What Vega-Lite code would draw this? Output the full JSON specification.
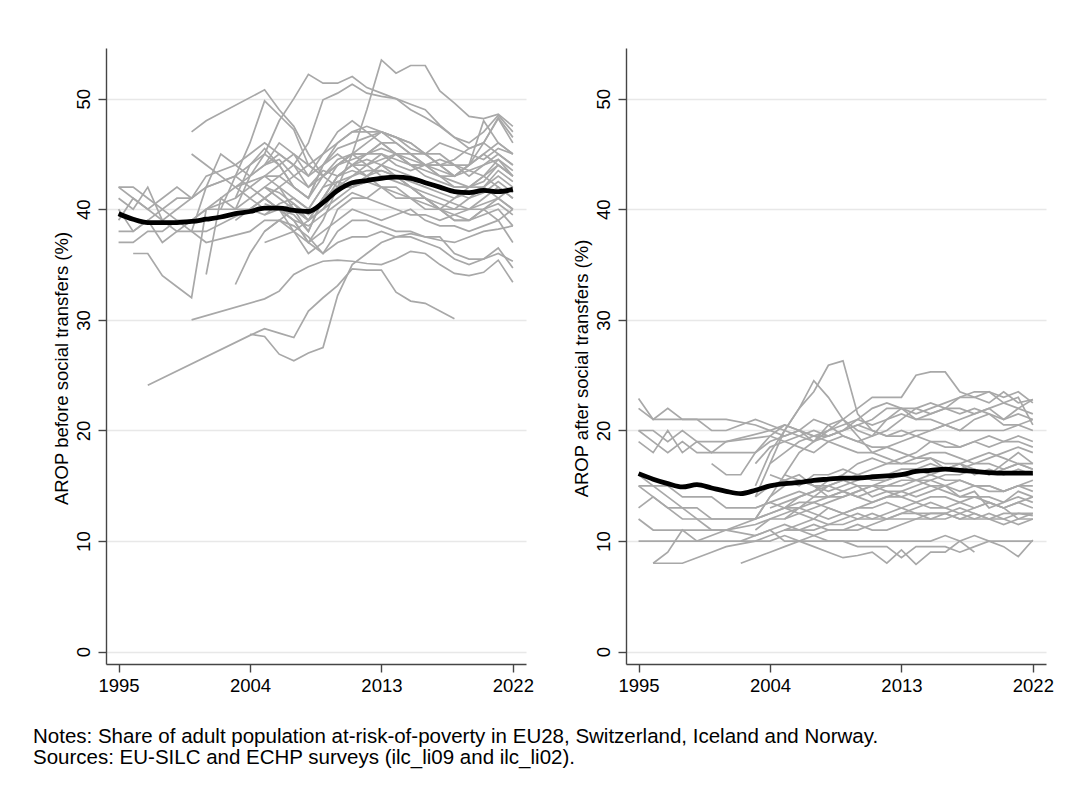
{
  "$schema": "https://vega.github.io/schema/vega-lite/v6.json",
  "description": "AROP before and after social transfers, EU28 + CH, IS, NO",
  "background": "white",
  "padding": {"left": 33, "top": 48, "right": 5, "bottom": 5},
  "config": {
    "font": "Liberation Sans",
    "view": {"stroke": null},
    "line": {"invalid": "filter"},
    "axis": {
      "labelFont": "Liberation Sans",
      "titleFont": "Liberation Sans",
      "labelColor": "#000000",
      "titleColor": "#000000",
      "labelFontSize": 18.5,
      "titleFontSize": 18.5,
      "titleFontWeight": "normal",
      "domainColor": "#454545",
      "tickColor": "#454545",
      "domainWidth": 1.4,
      "tickWidth": 1.4,
      "tickSize": 8
    }
  },
  "datasets": {
    "c": [
      {"c":1,"y":1995,"b":42,"a":22.9},{"c":1,"y":1996,"b":42,"a":21},{"c":1,"y":1997,"b":41,"a":22},{"c":1,"y":1998,"b":40,"a":21},{"c":1,"y":1999,"b":41,"a":21},{"c":1,"y":2000,"b":41,"a":21},{"c":1,"y":2001,"b":42,"a":21},{"c":1,"y":2003,"b":43,"a":20.5},{"c":1,"y":2004,"b":42,"a":20},{"c":1,"y":2005,"b":43,"a":20.5},{"c":1,"y":2006,"b":43,"a":20},{"c":1,"y":2007,"b":42,"a":19.5},{"c":1,"y":2008,"b":41,"a":19.5},{"c":1,"y":2009,"b":43,"a":20},{"c":1,"y":2010,"b":44,"a":20.5},{"c":1,"y":2011,"b":45,"a":20},{"c":1,"y":2012,"b":45,"a":19.5},{"c":1,"y":2013,"b":46,"a":19.5},{"c":1,"y":2014,"b":46,"a":20},{"c":1,"y":2015,"b":45,"a":20},{"c":1,"y":2016,"b":45,"a":20.5},{"c":1,"y":2017,"b":44,"a":20},{"c":1,"y":2018,"b":44,"a":20},{"c":1,"y":2019,"b":43,"a":20},{"c":1,"y":2020,"b":44,"a":20},{"c":1,"y":2021,"b":45,"a":20.5},{"c":1,"y":2022,"b":44,"a":20},
      {"c":2,"y":1995,"b":41,"a":22},{"c":2,"y":1996,"b":40,"a":21},{"c":2,"y":1997,"b":42,"a":21},{"c":2,"y":1998,"b":39,"a":21},{"c":2,"y":1999,"b":38,"a":21},{"c":2,"y":2000,"b":39,"a":20},{"c":2,"y":2001,"b":40,"a":20},{"c":2,"y":2003,"b":41,"a":21},{"c":2,"y":2004,"b":42,"a":20.5},{"c":2,"y":2005,"b":41,"a":20},{"c":2,"y":2006,"b":42,"a":19.5},{"c":2,"y":2007,"b":40,"a":19},{"c":2,"y":2008,"b":38,"a":20},{"c":2,"y":2009,"b":41,"a":20.5},{"c":2,"y":2010,"b":43,"a":21},{"c":2,"y":2011,"b":44,"a":20.5},{"c":2,"y":2012,"b":43,"a":21},{"c":2,"y":2013,"b":44,"a":22},{"c":2,"y":2014,"b":45,"a":22},{"c":2,"y":2015,"b":44,"a":21.5},{"c":2,"y":2016,"b":44,"a":22},{"c":2,"y":2017,"b":43,"a":22},{"c":2,"y":2018,"b":42,"a":21.5},{"c":2,"y":2019,"b":42,"a":22},{"c":2,"y":2020,"b":43,"a":22.5},{"c":2,"y":2021,"b":44,"a":22},{"c":2,"y":2022,"b":43,"a":22.8},
      {"c":3,"y":1995,"b":40,"a":20},{"c":3,"y":1996,"b":38,"a":20},{"c":3,"y":1997,"b":39,"a":19},{"c":3,"y":1998,"b":40,"a":20},{"c":3,"y":1999,"b":39,"a":19},{"c":3,"y":2000,"b":38,"a":19},{"c":3,"y":2001,"b":38,"a":19},{"c":3,"y":2004,"b":40,"a":20},{"c":3,"y":2005,"b":41,"a":19.5},{"c":3,"y":2006,"b":40,"a":20},{"c":3,"y":2007,"b":39,"a":21},{"c":3,"y":2008,"b":37,"a":20.5},{"c":3,"y":2009,"b":39,"a":19.5},{"c":3,"y":2010,"b":42,"a":19},{"c":3,"y":2011,"b":42,"a":19.5},{"c":3,"y":2012,"b":43,"a":21},{"c":3,"y":2013,"b":44,"a":21.5},{"c":3,"y":2014,"b":43,"a":21},{"c":3,"y":2015,"b":42,"a":21},{"c":3,"y":2016,"b":41,"a":20.5},{"c":3,"y":2017,"b":40,"a":20},{"c":3,"y":2018,"b":40,"a":21},{"c":3,"y":2019,"b":41,"a":21.5},{"c":3,"y":2020,"b":42,"a":20.5},{"c":3,"y":2021,"b":41,"a":20.5},{"c":3,"y":2022,"b":42,"a":21},
      {"c":4,"y":1995,"b":38,"a":19},{"c":4,"y":1996,"b":38,"a":18},{"c":4,"y":1997,"b":39,"a":20},{"c":4,"y":1998,"b":37,"a":18},{"c":4,"y":1999,"b":38,"a":19},{"c":4,"y":2000,"b":38,"a":18},{"c":4,"y":2001,"b":37,"a":19},{"c":4,"y":2004,"b":38,"a":19.5},{"c":4,"y":2005,"b":39,"a":19},{"c":4,"y":2006,"b":39,"a":18.5},{"c":4,"y":2007,"b":38,"a":18},{"c":4,"y":2008,"b":36,"a":19},{"c":4,"y":2009,"b":37,"a":19.5},{"c":4,"y":2010,"b":40,"a":19},{"c":4,"y":2011,"b":41,"a":18.5},{"c":4,"y":2012,"b":41,"a":18.5},{"c":4,"y":2013,"b":42,"a":19},{"c":4,"y":2014,"b":41,"a":19.5},{"c":4,"y":2015,"b":41,"a":19},{"c":4,"y":2016,"b":40,"a":18.5},{"c":4,"y":2017,"b":40,"a":18.5},{"c":4,"y":2018,"b":39,"a":19},{"c":4,"y":2019,"b":39,"a":18.5},{"c":4,"y":2020,"b":40,"a":19},{"c":4,"y":2021,"b":39,"a":19},{"c":4,"y":2022,"b":40,"a":18.5},
      {"c":5,"y":1995,"b":37,"a":20},{"c":5,"y":1996,"b":37,"a":19},{"c":5,"y":1997,"b":38,"a":18},{"c":5,"y":1998,"b":38,"a":19},{"c":5,"y":1999,"b":39,"a":18},{"c":5,"y":2000,"b":39,"a":18},{"c":5,"y":2001,"b":40,"a":18},{"c":5,"y":2003,"b":40,"a":18},{"c":5,"y":2004,"b":41,"a":19},{"c":5,"y":2005,"b":40,"a":19.5},{"c":5,"y":2006,"b":40,"a":20},{"c":5,"y":2007,"b":38,"a":19.5},{"c":5,"y":2008,"b":39,"a":19},{"c":5,"y":2009,"b":41,"a":18.5},{"c":5,"y":2010,"b":42,"a":18},{"c":5,"y":2011,"b":42,"a":18},{"c":5,"y":2012,"b":43,"a":18.5},{"c":5,"y":2013,"b":42,"a":18},{"c":5,"y":2014,"b":42,"a":17.5},{"c":5,"y":2015,"b":41,"a":17.5},{"c":5,"y":2016,"b":41,"a":17},{"c":5,"y":2017,"b":40,"a":17},{"c":5,"y":2018,"b":41,"a":17.5},{"c":5,"y":2019,"b":42,"a":18},{"c":5,"y":2020,"b":43,"a":17.5},{"c":5,"y":2021,"b":42,"a":17},{"c":5,"y":2022,"b":41,"a":17},
      {"c":6,"y":1995,"b":39,"a":15},{"c":6,"y":1996,"b":41,"a":14},{"c":6,"y":1997,"b":40,"a":13},{"c":6,"y":1998,"b":41,"a":12},{"c":6,"y":1999,"b":42,"a":12},{"c":6,"y":2000,"b":41,"a":11},{"c":6,"y":2001,"b":42,"a":11},{"c":6,"y":2003,"b":43,"a":11.5},{"c":6,"y":2004,"b":44,"a":12},{"c":6,"y":2005,"b":45,"a":12},{"c":6,"y":2006,"b":44,"a":12.5},{"c":6,"y":2007,"b":42,"a":12},{"c":6,"y":2008,"b":41,"a":13},{"c":6,"y":2009,"b":44,"a":12.5},{"c":6,"y":2010,"b":46,"a":12},{"c":6,"y":2011,"b":47,"a":12},{"c":6,"y":2012,"b":47,"a":12.5},{"c":6,"y":2013,"b":46,"a":13},{"c":6,"y":2014,"b":45,"a":12.5},{"c":6,"y":2015,"b":44,"a":12.5},{"c":6,"y":2016,"b":44,"a":12.5},{"c":6,"y":2017,"b":43,"a":13},{"c":6,"y":2018,"b":43,"a":12.5},{"c":6,"y":2019,"b":44,"a":12},{"c":6,"y":2020,"b":46,"a":12.5},{"c":6,"y":2021,"b":45,"a":12.5},{"c":6,"y":2022,"b":44,"a":12.5},
      {"c":7,"y":1995,"a":13},{"c":7,"y":1996,"b":36,"a":14},{"c":7,"y":1997,"b":36,"a":13},{"c":7,"y":1998,"b":34,"a":13},{"c":7,"y":1999,"b":33,"a":13},{"c":7,"y":2000,"b":32,"a":12},{"c":7,"y":2001,"b":40,"a":12},{"c":7,"y":2003,"b":42,"a":12},{"c":7,"y":2004,"b":41,"a":12.5},{"c":7,"y":2005,"b":42,"a":13},{"c":7,"y":2006,"b":41,"a":13},{"c":7,"y":2007,"b":40,"a":14},{"c":7,"y":2008,"b":39,"a":14},{"c":7,"y":2009,"b":40,"a":14.5},{"c":7,"y":2010,"b":42,"a":14},{"c":7,"y":2011,"b":43,"a":13.5},{"c":7,"y":2012,"b":44,"a":14},{"c":7,"y":2013,"b":43,"a":14},{"c":7,"y":2014,"b":43,"a":13.5},{"c":7,"y":2015,"b":42,"a":14},{"c":7,"y":2016,"b":41,"a":14},{"c":7,"y":2017,"b":40,"a":13.5},{"c":7,"y":2018,"b":39,"a":13},{"c":7,"y":2019,"b":39,"a":13.5},{"c":7,"y":2020,"b":40,"a":13},{"c":7,"y":2021,"b":41,"a":13.5},{"c":7,"y":2022,"b":40,"a":14},
      {"c":8,"y":1995,"b":42,"a":12},{"c":8,"y":1996,"b":41,"a":11},{"c":8,"y":1997,"b":40,"a":11},{"c":8,"y":1998,"b":39,"a":11},{"c":8,"y":1999,"b":40,"a":11},{"c":8,"y":2000,"b":41,"a":11},{"c":8,"y":2001,"b":43,"a":11},{"c":8,"y":2003,"b":44,"a":10.5},{"c":8,"y":2004,"b":45,"a":11},{"c":8,"y":2005,"b":46,"a":11.5},{"c":8,"y":2006,"b":45,"a":11},{"c":8,"y":2007,"b":44,"a":11},{"c":8,"y":2008,"b":43,"a":11.5},{"c":8,"y":2009,"b":45,"a":11.5},{"c":8,"y":2010,"b":47,"a":12},{"c":8,"y":2011,"b":48,"a":12.5},{"c":8,"y":2012,"b":47,"a":12},{"c":8,"y":2013,"b":47,"a":12.5},{"c":8,"y":2014,"b":46,"a":12.5},{"c":8,"y":2015,"b":45,"a":12},{"c":8,"y":2016,"b":44,"a":12.5},{"c":8,"y":2017,"b":44,"a":12},{"c":8,"y":2018,"b":43,"a":12},{"c":8,"y":2019,"b":44,"a":12.5},{"c":8,"y":2020,"b":48,"a":12},{"c":8,"y":2021,"b":46,"a":11.5},{"c":8,"y":2022,"b":45,"a":12},
      {"c":9,"y":1995,"a":10},{"c":9,"y":1996,"a":10},{"c":9,"y":1997,"b":24.1,"a":10},{"c":9,"y":1998,"a":10},{"c":9,"y":1999,"a":10},{"c":9,"y":2000,"a":10},{"c":9,"y":2001,"a":10},{"c":9,"y":2003,"a":10},{"c":9,"y":2004,"b":28.6,"a":10},{"c":9,"y":2005,"b":29.2,"a":10.5},{"c":9,"y":2006,"b":28.8,"a":10},{"c":9,"y":2007,"b":28.4,"a":10},{"c":9,"y":2008,"b":30.8,"a":10},{"c":9,"y":2009,"b":32,"a":10},{"c":9,"y":2010,"b":33.1,"a":10},{"c":9,"y":2011,"b":34.6,"a":10},{"c":9,"y":2012,"b":34.5,"a":10},{"c":9,"y":2013,"b":34.5,"a":10},{"c":9,"y":2014,"b":32.5,"a":10},{"c":9,"y":2015,"b":31.7,"a":10},{"c":9,"y":2016,"b":31.5,"a":10.5},{"c":9,"y":2017,"b":30.8,"a":10},{"c":9,"y":2018,"b":30.1,"a":10.5},{"c":9,"y":2019,"a":10},{"c":9,"y":2020,"a":10},{"c":9,"y":2021,"a":10},{"c":9,"y":2022,"a":10},
      {"c":10,"y":1996,"a":8},{"c":10,"y":1997,"a":8},{"c":10,"y":1998,"a":8},{"c":10,"y":1999,"a":8.5},{"c":10,"y":2000,"a":9},{"c":10,"y":2001,"a":9.5},{"c":10,"y":2003,"a":10},{"c":10,"y":2004,"b":28.7,"a":10.5},{"c":10,"y":2005,"b":28.5,"a":11},{"c":10,"y":2006,"b":26.9,"a":11},{"c":10,"y":2007,"b":26.3,"a":10.5},{"c":10,"y":2008,"b":27,"a":11},{"c":10,"y":2009,"b":27.5,"a":11},{"c":10,"y":2010,"b":32.2,"a":11.5},{"c":10,"y":2011,"b":35,"a":11},{"c":10,"y":2012,"b":36,"a":11},{"c":10,"y":2013,"b":37,"a":11.5},{"c":10,"y":2014,"b":37.5,"a":12},{"c":10,"y":2015,"b":37.8,"a":12},{"c":10,"y":2016,"b":37.5,"a":12},{"c":10,"y":2017,"b":37.2,"a":12.5},{"c":10,"y":2018,"b":37,"a":12},{"c":10,"y":2019,"b":37.5,"a":12},{"c":10,"y":2020,"b":38,"a":11.5},{"c":10,"y":2021,"b":38.2,"a":12},{"c":10,"y":2022,"b":38.5,"a":12.5},
      {"c":11,"y":1996,"a":8},{"c":11,"y":1997,"a":9},{"c":11,"y":1998,"a":11},{"c":11,"y":1999,"a":10},{"c":11,"y":2000,"b":30,"a":10.5},{"c":11,"y":2001,"a":11},{"c":11,"y":2003,"a":12},{"c":11,"y":2004,"a":14},{"c":11,"y":2005,"b":31.9,"a":15},{"c":11,"y":2006,"b":32.6,"a":15.5},{"c":11,"y":2007,"b":34.1,"a":15},{"c":11,"y":2008,"b":34.8,"a":15},{"c":11,"y":2009,"b":35.3,"a":14.5},{"c":11,"y":2010,"b":35.4,"a":14},{"c":11,"y":2011,"b":35.3,"a":14.5},{"c":11,"y":2012,"b":35.1,"a":15},{"c":11,"y":2013,"b":35,"a":15},{"c":11,"y":2014,"b":35.5,"a":15.5},{"c":11,"y":2015,"b":36.2,"a":15},{"c":11,"y":2016,"b":36,"a":15},{"c":11,"y":2017,"b":35,"a":14.5},{"c":11,"y":2018,"b":34.2,"a":15},{"c":11,"y":2019,"b":34,"a":15},{"c":11,"y":2020,"b":34.3,"a":14.5},{"c":11,"y":2021,"b":35.4,"a":15},{"c":11,"y":2022,"b":33.4,"a":15},
      {"c":12,"y":1995,"a":15},{"c":12,"y":1996,"a":15},{"c":12,"y":1997,"a":15},{"c":12,"y":1998,"a":14},{"c":12,"y":1999,"a":14},{"c":12,"y":2000,"b":47,"a":14},{"c":12,"y":2001,"b":48,"a":13},{"c":12,"y":2003,"a":13},{"c":12,"y":2004,"a":13.5},{"c":12,"y":2005,"b":50.8,"a":13},{"c":12,"y":2006,"b":49,"a":13.5},{"c":12,"y":2007,"b":47.5,"a":13.5},{"c":12,"y":2008,"b":45,"a":14},{"c":12,"y":2009,"b":43,"a":14},{"c":12,"y":2010,"b":44,"a":14.5},{"c":12,"y":2011,"b":45,"a":15},{"c":12,"y":2012,"b":46,"a":15},{"c":12,"y":2013,"b":47,"a":15.5},{"c":12,"y":2014,"b":46.5,"a":15.5},{"c":12,"y":2015,"b":46,"a":15.5},{"c":12,"y":2016,"b":45,"a":15},{"c":12,"y":2017,"b":45,"a":15.5},{"c":12,"y":2018,"b":44,"a":15},{"c":12,"y":2019,"b":44,"a":14.5},{"c":12,"y":2020,"b":45,"a":14.5},{"c":12,"y":2021,"b":46,"a":15},{"c":12,"y":2022,"b":45,"a":15.5},
      {"c":13,"y":1995,"a":16},{"c":13,"y":1996,"a":15},{"c":13,"y":1997,"a":14},{"c":13,"y":1998,"a":13},{"c":13,"y":1999,"a":12},{"c":13,"y":2000,"a":12},{"c":13,"y":2001,"a":12},{"c":13,"y":2002,"b":40},{"c":13,"y":2003,"b":43,"a":12},{"c":13,"y":2004,"b":46,"a":12.5},{"c":13,"y":2005,"b":49.8,"a":13},{"c":13,"y":2006,"b":48.5,"a":12.5},{"c":13,"y":2007,"b":47.2,"a":13},{"c":13,"y":2008,"b":44,"a":13.5},{"c":13,"y":2009,"b":43,"a":14},{"c":13,"y":2010,"b":44,"a":14.5},{"c":13,"y":2011,"b":45,"a":15},{"c":13,"y":2012,"b":45,"a":15.5},{"c":13,"y":2013,"b":46,"a":16},{"c":13,"y":2014,"b":45,"a":16.5},{"c":13,"y":2015,"b":45,"a":16},{"c":13,"y":2016,"b":44,"a":16.5},{"c":13,"y":2017,"b":44,"a":17},{"c":13,"y":2018,"b":43,"a":16.5},{"c":13,"y":2019,"b":44,"a":16},{"c":13,"y":2020,"b":45,"a":16.5},{"c":13,"y":2021,"b":44,"a":17},{"c":13,"y":2022,"b":43,"a":16.5},
      {"c":14,"y":2000,"a":17},{"c":14,"y":2001,"a":16},{"c":14,"y":2002,"a":16},{"c":14,"y":2003,"b":40,"a":18},{"c":14,"y":2004,"b":43,"a":19.5},{"c":14,"y":2005,"b":45,"a":20.5},{"c":14,"y":2006,"b":48,"a":20},{"c":14,"y":2007,"b":50,"a":19},{"c":14,"y":2008,"b":52.2,"a":20.5},{"c":14,"y":2009,"b":51.4,"a":21},{"c":14,"y":2010,"b":51.4,"a":20},{"c":14,"y":2011,"b":52,"a":19.5},{"c":14,"y":2012,"b":51,"a":20},{"c":14,"y":2013,"b":50.5,"a":21},{"c":14,"y":2014,"b":50,"a":22},{"c":14,"y":2015,"b":49,"a":22.5},{"c":14,"y":2016,"b":48.3,"a":22},{"c":14,"y":2017,"b":47.5,"a":23},{"c":14,"y":2018,"b":46.5,"a":23.5},{"c":14,"y":2019,"b":46,"a":23.5},{"c":14,"y":2020,"b":47,"a":23},{"c":14,"y":2021,"b":48.5,"a":23.5},{"c":14,"y":2022,"b":47,"a":22.5},
      {"c":15,"y":2003,"a":14},{"c":15,"y":2004,"a":17},{"c":15,"y":2005,"b":43,"a":20},{"c":15,"y":2006,"b":44,"a":22},{"c":15,"y":2007,"b":45,"a":23.5},{"c":15,"y":2008,"b":44,"a":25.9},{"c":15,"y":2009,"b":43,"a":26.3},{"c":15,"y":2010,"b":42,"a":21.5},{"c":15,"y":2011,"b":45,"a":20},{"c":15,"y":2012,"b":49,"a":19.5},{"c":15,"y":2013,"b":53.5,"a":20},{"c":15,"y":2014,"b":52.3,"a":19.5},{"c":15,"y":2015,"b":53,"a":20},{"c":15,"y":2016,"b":53,"a":20.5},{"c":15,"y":2017,"b":50.7,"a":21},{"c":15,"y":2018,"b":49.6,"a":21.5},{"c":15,"y":2019,"b":48.4,"a":22},{"c":15,"y":2020,"b":48.2,"a":21},{"c":15,"y":2021,"b":48.6,"a":21.5},{"c":15,"y":2022,"b":47.5,"a":21},
      {"c":16,"y":2003,"a":15},{"c":16,"y":2004,"a":18},{"c":16,"y":2005,"b":42,"a":20},{"c":16,"y":2006,"b":43,"a":22},{"c":16,"y":2007,"b":44,"a":24.5},{"c":16,"y":2008,"b":46,"a":23},{"c":16,"y":2009,"b":49.9,"a":21},{"c":16,"y":2010,"b":50.5,"a":19.5},{"c":16,"y":2011,"b":51.3,"a":18},{"c":16,"y":2012,"b":50.5,"a":17.5},{"c":16,"y":2013,"b":50.2,"a":17},{"c":16,"y":2014,"b":50,"a":17},{"c":16,"y":2015,"b":49.5,"a":17.5},{"c":16,"y":2016,"b":49,"a":16.5},{"c":16,"y":2017,"b":47.6,"a":16.5},{"c":16,"y":2018,"b":46.5,"a":17},{"c":16,"y":2019,"b":45.5,"a":17},{"c":16,"y":2020,"b":46,"a":16.5},{"c":16,"y":2021,"b":48.2,"a":17},{"c":16,"y":2022,"b":46,"a":16.5},
      {"c":17,"y":2004,"a":17},{"c":17,"y":2005,"b":37,"a":18},{"c":17,"y":2006,"b":37.5,"a":19},{"c":17,"y":2007,"b":38,"a":19.5},{"c":17,"y":2008,"b":37,"a":20},{"c":17,"y":2009,"b":36,"a":21},{"c":17,"y":2010,"b":37,"a":22},{"c":17,"y":2011,"b":37.5,"a":23},{"c":17,"y":2012,"b":37.5,"a":23},{"c":17,"y":2013,"b":38,"a":23},{"c":17,"y":2014,"b":37.5,"a":25},{"c":17,"y":2015,"b":37.5,"a":25.3},{"c":17,"y":2016,"b":37,"a":25.3},{"c":17,"y":2017,"b":36.5,"a":23.5},{"c":17,"y":2018,"b":35.5,"a":23},{"c":17,"y":2019,"b":35,"a":22.5},{"c":17,"y":2020,"b":35.5,"a":23.5},{"c":17,"y":2021,"b":36,"a":22.5},{"c":17,"y":2022,"b":35.3,"a":22.8},
      {"c":18,"y":2003,"a":12},{"c":18,"y":2004,"a":14},{"c":18,"y":2005,"b":38,"a":16},{"c":18,"y":2006,"b":39,"a":18},{"c":18,"y":2007,"b":38.5,"a":19},{"c":18,"y":2008,"b":37.5,"a":19.5},{"c":18,"y":2009,"b":36,"a":20},{"c":18,"y":2010,"b":38,"a":20.5},{"c":18,"y":2011,"b":39,"a":21},{"c":18,"y":2012,"b":39,"a":22},{"c":18,"y":2013,"b":38.5,"a":22},{"c":18,"y":2014,"b":38,"a":21},{"c":18,"y":2015,"b":38,"a":21.5},{"c":18,"y":2016,"b":37.5,"a":22},{"c":18,"y":2017,"b":37.5,"a":21.5},{"c":18,"y":2018,"b":36,"a":22},{"c":18,"y":2019,"b":35.5,"a":21.5},{"c":18,"y":2020,"b":35.5,"a":21},{"c":18,"y":2021,"b":36.5,"a":22},{"c":18,"y":2022,"b":34.7,"a":21.5},
      {"c":19,"y":2002,"a":8},{"c":19,"y":2003,"b":39,"a":8.5},{"c":19,"y":2004,"b":40,"a":9},{"c":19,"y":2005,"b":39.5,"a":9.5},{"c":19,"y":2006,"b":40,"a":10},{"c":19,"y":2007,"b":39,"a":9.5},{"c":19,"y":2008,"b":37,"a":9},{"c":19,"y":2009,"b":38,"a":8.5},{"c":19,"y":2010,"b":39,"a":8.7},{"c":19,"y":2011,"b":40,"a":9},{"c":19,"y":2012,"b":39.5,"a":8},{"c":19,"y":2013,"b":39,"a":9.2},{"c":19,"y":2014,"b":39.5,"a":7.9},{"c":19,"y":2015,"b":40,"a":9},{"c":19,"y":2016,"b":39,"a":9},{"c":19,"y":2017,"b":38.5,"a":10},{"c":19,"y":2018,"b":38.5,"a":9},{"c":19,"y":2019,"b":38},{"c":19,"y":2020,"b":38.5},{"c":19,"y":2021,"b":39},{"c":19,"y":2022,"b":37},
      {"c":20,"y":2001,"b":34.1},{"c":20,"y":2002,"b":41,"a":10},{"c":20,"y":2003,"b":40,"a":10.5},{"c":20,"y":2004,"b":40,"a":11},{"c":20,"y":2005,"b":41,"a":10},{"c":20,"y":2006,"b":40,"a":10},{"c":20,"y":2007,"b":39,"a":10.5},{"c":20,"y":2008,"b":38.5,"a":10},{"c":20,"y":2009,"b":39.5,"a":10},{"c":20,"y":2010,"b":40.5,"a":9.5},{"c":20,"y":2011,"b":41.5,"a":9.5},{"c":20,"y":2012,"b":41,"a":9.5},{"c":20,"y":2013,"b":40.5,"a":8.5},{"c":20,"y":2014,"b":40,"a":9.5},{"c":20,"y":2015,"b":39.5,"a":9.5},{"c":20,"y":2016,"b":39.5,"a":9.5},{"c":20,"y":2017,"b":39,"a":9},{"c":20,"y":2018,"b":39.5,"a":9.5},{"c":20,"y":2019,"b":40,"a":10},{"c":20,"y":2020,"b":40,"a":9.5},{"c":20,"y":2021,"b":40.5,"a":8.6},{"c":20,"y":2022,"b":39.5,"a":10.1},
      {"c":21,"y":2003,"b":33.2,"a":14},{"c":21,"y":2004,"b":36,"a":15},{"c":21,"y":2005,"b":38,"a":15.5},{"c":21,"y":2006,"b":39,"a":15},{"c":21,"y":2007,"b":40,"a":16},{"c":21,"y":2008,"b":39,"a":16},{"c":21,"y":2009,"b":41,"a":16.5},{"c":21,"y":2010,"b":43,"a":16},{"c":21,"y":2011,"b":44,"a":16.5},{"c":21,"y":2012,"b":44,"a":17},{"c":21,"y":2013,"b":45,"a":17},{"c":21,"y":2014,"b":44.5,"a":17.5},{"c":21,"y":2015,"b":44,"a":18},{"c":21,"y":2016,"b":43,"a":18},{"c":21,"y":2017,"b":42.5,"a":17.5},{"c":21,"y":2018,"b":42,"a":17},{"c":21,"y":2019,"b":42,"a":17.5},{"c":21,"y":2020,"b":42.5,"a":18},{"c":21,"y":2021,"b":44,"a":18.5},{"c":21,"y":2022,"b":43,"a":18},
      {"c":22,"y":2000,"b":45},{"c":22,"y":2001,"b":44},{"c":22,"y":2002,"b":43},{"c":22,"y":2003,"b":42,"a":13},{"c":22,"y":2004,"b":42.5,"a":13.5},{"c":22,"y":2005,"b":43,"a":14},{"c":22,"y":2006,"b":42,"a":14.5},{"c":22,"y":2007,"b":41,"a":14},{"c":22,"y":2008,"b":40,"a":15},{"c":22,"y":2009,"b":42,"a":15.5},{"c":22,"y":2010,"b":44,"a":16},{"c":22,"y":2011,"b":44.5,"a":15.5},{"c":22,"y":2012,"b":45,"a":15.5},{"c":22,"y":2013,"b":45.5,"a":16},{"c":22,"y":2014,"b":45,"a":15.5},{"c":22,"y":2015,"b":44,"a":16},{"c":22,"y":2016,"b":43.5,"a":15.5},{"c":22,"y":2017,"b":43,"a":15.5},{"c":22,"y":2018,"b":42.5,"a":15},{"c":22,"y":2019,"b":42,"a":15},{"c":22,"y":2020,"b":42,"a":14.5},{"c":22,"y":2021,"b":43,"a":15},{"c":22,"y":2022,"b":42,"a":14.5},
      {"c":23,"y":2000,"b":38},{"c":23,"y":2001,"b":42},{"c":23,"y":2002,"b":45},{"c":23,"y":2003,"b":44},{"c":23,"y":2004,"b":43},{"c":23,"y":2005,"b":44,"a":16},{"c":23,"y":2006,"b":46,"a":15.5},{"c":23,"y":2007,"b":45,"a":15},{"c":23,"y":2008,"b":43,"a":14},{"c":23,"y":2009,"b":44,"a":14.5},{"c":23,"y":2010,"b":45.5,"a":15},{"c":23,"y":2011,"b":46,"a":15},{"c":23,"y":2012,"b":46.5,"a":14.5},{"c":23,"y":2013,"b":47,"a":14.5},{"c":23,"y":2014,"b":46.5,"a":14},{"c":23,"y":2015,"b":45.5,"a":14.5},{"c":23,"y":2016,"b":45,"a":15},{"c":23,"y":2017,"b":46,"a":14},{"c":23,"y":2018,"b":45.5,"a":14},{"c":23,"y":2019,"b":45,"a":13.5},{"c":23,"y":2020,"b":44.5,"a":13},{"c":23,"y":2021,"b":45.5,"a":13.5},{"c":23,"y":2022,"b":45,"a":13},
      {"c":24,"y":2003,"b":41},{"c":24,"y":2004,"b":44},{"c":24,"y":2005,"b":45.5,"a":12},{"c":24,"y":2006,"b":44,"a":13},{"c":24,"y":2007,"b":42,"a":13.5},{"c":24,"y":2008,"b":41,"a":13},{"c":24,"y":2009,"b":44,"a":12.5},{"c":24,"y":2010,"b":45,"a":13},{"c":24,"y":2011,"b":44,"a":13.5},{"c":24,"y":2012,"b":44.5,"a":14},{"c":24,"y":2013,"b":44,"a":14.5},{"c":24,"y":2014,"b":43.5,"a":15},{"c":24,"y":2015,"b":43,"a":15.5},{"c":24,"y":2016,"b":42.5,"a":16},{"c":24,"y":2017,"b":42,"a":16},{"c":24,"y":2018,"b":41.5,"a":16.5},{"c":24,"y":2019,"b":41,"a":16},{"c":24,"y":2020,"b":41.5,"a":17},{"c":24,"y":2021,"b":42.5,"a":18},{"c":24,"y":2022,"b":41.5,"a":17},
      {"c":25,"y":2004,"b":40},{"c":25,"y":2005,"b":41,"a":13},{"c":25,"y":2006,"b":42,"a":14},{"c":25,"y":2007,"b":43,"a":14.5},{"c":25,"y":2008,"b":44,"a":15.5},{"c":25,"y":2009,"b":45,"a":16},{"c":25,"y":2010,"b":46,"a":17},{"c":25,"y":2011,"b":47,"a":17.5},{"c":25,"y":2012,"b":47.5,"a":17},{"c":25,"y":2013,"b":47,"a":17.5},{"c":25,"y":2014,"b":46.5,"a":18},{"c":25,"y":2015,"b":46,"a":19},{"c":25,"y":2016,"b":45,"a":19},{"c":25,"y":2017,"b":44,"a":18.5},{"c":25,"y":2018,"b":44.5,"a":19},{"c":25,"y":2019,"b":45.5,"a":19.5},{"c":25,"y":2020,"b":46,"a":19},{"c":25,"y":2021,"b":48.3,"a":19.5},{"c":25,"y":2022,"b":46.5,"a":19},
      {"c":26,"y":2003,"a":11},{"c":26,"y":2004,"a":12},{"c":26,"y":2005,"b":41,"a":12.5},{"c":26,"y":2006,"b":40,"a":13},{"c":26,"y":2007,"b":39.5,"a":12.5},{"c":26,"y":2008,"b":38,"a":12},{"c":26,"y":2009,"b":41,"a":12.5},{"c":26,"y":2010,"b":43,"a":13},{"c":26,"y":2011,"b":43.5,"a":13},{"c":26,"y":2012,"b":43,"a":13.5},{"c":26,"y":2013,"b":43.5,"a":13},{"c":26,"y":2014,"b":43,"a":13.5},{"c":26,"y":2015,"b":42,"a":13},{"c":26,"y":2016,"b":41,"a":13},{"c":26,"y":2017,"b":40.5,"a":12.5},{"c":26,"y":2018,"b":40,"a":13},{"c":26,"y":2019,"b":40,"a":13.5},{"c":26,"y":2020,"b":40.5,"a":13},{"c":26,"y":2021,"b":41,"a":12},{"c":26,"y":2022,"b":40,"a":12},
      {"c":27,"y":2005,"b":44,"a":11},{"c":27,"y":2006,"b":45,"a":11.5},{"c":27,"y":2007,"b":44,"a":12},{"c":27,"y":2008,"b":42,"a":11.5},{"c":27,"y":2009,"b":43,"a":12},{"c":27,"y":2010,"b":44.5,"a":12.5},{"c":27,"y":2011,"b":45,"a":12},{"c":27,"y":2012,"b":44,"a":12},{"c":27,"y":2013,"b":44.5,"a":12},{"c":27,"y":2014,"b":45,"a":12},{"c":27,"y":2015,"b":44.5,"a":12.5},{"c":27,"y":2016,"b":44,"a":12.5},{"c":27,"y":2017,"b":43.5,"a":12},{"c":27,"y":2018,"b":43,"a":12.5},{"c":27,"y":2019,"b":43.5,"a":12},{"c":27,"y":2020,"b":44,"a":12},{"c":27,"y":2021,"b":44.5,"a":12.5},{"c":27,"y":2022,"b":43.5,"a":12.3},
      {"c":28,"y":2004,"a":16},{"c":28,"y":2005,"b":39.5,"a":15.5},{"c":28,"y":2006,"b":40.5,"a":16},{"c":28,"y":2007,"b":41,"a":15},{"c":28,"y":2008,"b":40,"a":14.5},{"c":28,"y":2009,"b":42,"a":15},{"c":28,"y":2010,"b":42.5,"a":15.5},{"c":28,"y":2011,"b":42,"a":16},{"c":28,"y":2012,"b":42.5,"a":16},{"c":28,"y":2013,"b":43,"a":16.5},{"c":28,"y":2014,"b":42.5,"a":16.5},{"c":28,"y":2015,"b":42,"a":17},{"c":28,"y":2016,"b":41.5,"a":16.5},{"c":28,"y":2017,"b":41,"a":17},{"c":28,"y":2018,"b":40.5,"a":16},{"c":28,"y":2019,"b":40,"a":16.5},{"c":28,"y":2020,"b":41,"a":16},{"c":28,"y":2021,"b":42,"a":16.5},{"c":28,"y":2022,"b":41,"a":16},
      {"c":29,"y":2003,"b":42},{"c":29,"y":2004,"b":43,"a":13},{"c":29,"y":2005,"b":44,"a":13.5},{"c":29,"y":2006,"b":44.5,"a":14},{"c":29,"y":2007,"b":43,"a":14.5},{"c":29,"y":2008,"b":42,"a":15},{"c":29,"y":2009,"b":43.5,"a":15.5},{"c":29,"y":2010,"b":43,"a":15},{"c":29,"y":2011,"b":44,"a":14},{"c":29,"y":2012,"b":45,"a":14.5},{"c":29,"y":2013,"b":45,"a":14},{"c":29,"y":2014,"b":44,"a":14.5},{"c":29,"y":2015,"b":43.5,"a":15},{"c":29,"y":2016,"b":44,"a":14.5},{"c":29,"y":2017,"b":44.5,"a":14},{"c":29,"y":2018,"b":44,"a":14.5},{"c":29,"y":2019,"b":43.5,"a":13},{"c":29,"y":2020,"b":43,"a":13.5},{"c":29,"y":2021,"b":44.5,"a":14},{"c":29,"y":2022,"b":43,"a":13.5},
      {"c":30,"y":2003,"a":17},{"c":30,"y":2004,"a":18.5},{"c":30,"y":2005,"b":42,"a":19},{"c":30,"y":2006,"b":41.5,"a":19.5},{"c":30,"y":2007,"b":40.5,"a":20},{"c":30,"y":2008,"b":39,"a":19.5},{"c":30,"y":2009,"b":40,"a":20},{"c":30,"y":2010,"b":41,"a":21},{"c":30,"y":2011,"b":42,"a":22},{"c":30,"y":2012,"b":42.5,"a":22.5},{"c":30,"y":2013,"b":42,"a":22},{"c":30,"y":2014,"b":41.5,"a":21.5},{"c":30,"y":2015,"b":41,"a":22},{"c":30,"y":2016,"b":40.5,"a":22.5},{"c":30,"y":2017,"b":40,"a":23},{"c":30,"y":2018,"b":39.5,"a":23},{"c":30,"y":2019,"b":39,"a":23.5},{"c":30,"y":2020,"b":39.5,"a":22.5},{"c":30,"y":2021,"b":40,"a":23},{"c":30,"y":2022,"b":38.5,"a":20.5},
      {"c":31,"y":2005,"b":40.5,"a":11},{"c":31,"y":2006,"b":40,"a":11},{"c":31,"y":2007,"b":40.5,"a":11.5},{"c":31,"y":2008,"b":39.5,"a":11},{"c":31,"y":2009,"b":40.5,"a":11},{"c":31,"y":2010,"b":42.5,"a":11},{"c":31,"y":2011,"b":43,"a":11.5},{"c":31,"y":2012,"b":43.5,"a":12},{"c":31,"y":2013,"b":43.5,"a":12.5},{"c":31,"y":2014,"b":43,"a":13},{"c":31,"y":2015,"b":42.5,"a":13.5},{"c":31,"y":2016,"b":42,"a":13},{"c":31,"y":2017,"b":41.5,"a":13.5},{"c":31,"y":2018,"b":41,"a":14},{"c":31,"y":2019,"b":41.5,"a":14},{"c":31,"y":2020,"b":42,"a":13.5},{"c":31,"y":2021,"b":43.5,"a":14.5},{"c":31,"y":2022,"b":42.5,"a":14}
    ],
    "m": [
      {"y":1995,"b":39.6,"a":16.1},{"y":1996,"b":39.1,"a":15.6},{"y":1997,"b":38.8,"a":15.2},{"y":1998,"b":38.8,"a":14.9},{"y":1999,"b":38.8,"a":15.1},{"y":2000,"b":38.9,"a":14.8},{"y":2001,"b":39.1,"a":14.5},{"y":2002,"b":39.3,"a":14.3},{"y":2003,"b":39.6,"a":14.6},{"y":2004,"b":39.8,"a":15.0},{"y":2005,"b":40.1,"a":15.2},{"y":2006,"b":40.1,"a":15.3},{"y":2007,"b":39.9,"a":15.5},{"y":2008,"b":39.8,"a":15.6},{"y":2009,"b":40.6,"a":15.7},{"y":2010,"b":41.7,"a":15.7},{"y":2011,"b":42.4,"a":15.8},{"y":2012,"b":42.6,"a":15.9},{"y":2013,"b":42.8,"a":16.0},{"y":2014,"b":42.9,"a":16.3},{"y":2015,"b":42.8,"a":16.4},{"y":2016,"b":42.4,"a":16.5},{"y":2017,"b":42.0,"a":16.4},{"y":2018,"b":41.6,"a":16.3},{"y":2019,"b":41.5,"a":16.2},{"y":2020,"b":41.7,"a":16.15},{"y":2021,"b":41.6,"a":16.15},{"y":2022,"b":41.8,"a":16.15}
    ]
  },
  "spacing": 38,
  "hconcat": [
    {
      "width": 420,
      "height": 616,
      "encoding": {
        "x": {
          "field": "y", "type": "quantitative",
          "scale": {"domain": [1994.14, 2022.9], "nice": false, "zero": false},
          "axis": {"title": null, "values": [1995, 2004, 2013, 2022], "format": "d", "grid": false, "labelPadding": 4, "labelFlush": false}
        },
        "y": {
          "field": "b", "type": "quantitative",
          "scale": {"domain": [-1.11, 54.58], "nice": false, "zero": false},
          "axis": {
            "title": "AROP before social transfers (%)",
            "values": [0, 10, 20, 30, 40, 50],
            "labelAngle": -90, "labelAlign": "center", "labelBaseline": "bottom", "labelPadding": 5,
            "grid": true, "gridColor": "#e8e8e8", "gridWidth": 1.5,
            "titleAngle": -90, "titleX": -45, "titleY": 320, "titleAlign": "center", "titleBaseline": "middle"
          }
        }
      },
      "layer": [
        {"data": {"name": "c"}, "mark": {"type": "line", "color": "#a8a8a8", "strokeWidth": 1.7, "invalid": "filter"}, "encoding": {"detail": {"field": "c", "type": "nominal"}}},
        {"data": {"name": "m"}, "mark": {"type": "line", "color": "#000000", "strokeWidth": 4.8, "interpolate": "monotone"}, "encoding": {}}
      ]
    },
    {
      "width": 420,
      "height": 616,
      "encoding": {
        "x": {
          "field": "y", "type": "quantitative",
          "scale": {"domain": [1994.14, 2022.9], "nice": false, "zero": false},
          "axis": {"title": null, "values": [1995, 2004, 2013, 2022], "format": "d", "grid": false, "labelPadding": 4, "labelFlush": false}
        },
        "y": {
          "field": "a", "type": "quantitative",
          "scale": {"domain": [-1.11, 54.58], "nice": false, "zero": false},
          "axis": {
            "title": "AROP after social transfers (%)",
            "values": [0, 10, 20, 30, 40, 50],
            "labelAngle": -90, "labelAlign": "center", "labelBaseline": "bottom", "labelPadding": 5,
            "grid": true, "gridColor": "#e8e8e8", "gridWidth": 1.5,
            "titleAngle": -90, "titleX": -45, "titleY": 320, "titleAlign": "center", "titleBaseline": "middle"
          }
        }
      },
      "layer": [
        {"data": {"name": "c"}, "mark": {"type": "line", "color": "#a8a8a8", "strokeWidth": 1.7, "invalid": "filter"}, "encoding": {"detail": {"field": "c", "type": "nominal"}}},
        {"data": {"name": "m"}, "mark": {"type": "line", "color": "#000000", "strokeWidth": 4.8, "interpolate": "monotone"}, "encoding": {}}
      ]
    }
  ],
  "title": {
    "text": ["Notes: Share of adult population at-risk-of-poverty in EU28, Switzerland, Iceland and Norway.", "Sources: EU-SILC and ECHP surveys (ilc_li09 and ilc_li02)."],
    "orient": "bottom",
    "anchor": "start",
    "frame": "bounds",
    "font": "Liberation Sans",
    "fontSize": 20.5,
    "fontWeight": "normal",
    "color": "#000000",
    "lineHeight": 21.5,
    "offset": 32,
    "dx": -19
  }
}
